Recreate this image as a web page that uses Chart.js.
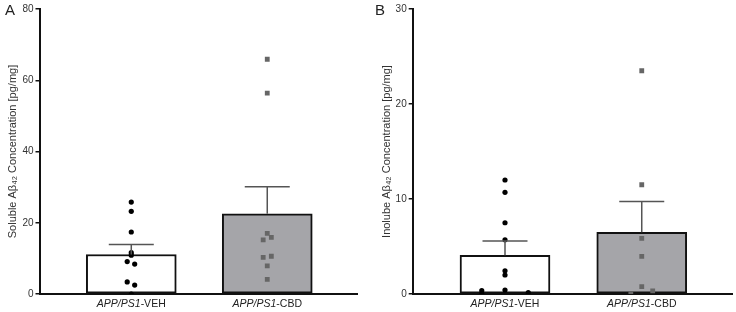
<!DOCTYPE html>
<html>
<head>
<meta charset="utf-8">
<script src="https://cdn.jsdelivr.net/npm/chart.js@4.4.1/dist/chart.umd.min.js"></script>
<style>
	body { margin: 0; background: #fff; width: 736px; height: 312px; overflow: hidden; }
	.panel { position: absolute; top: 0; width: 368px; height: 312px; }
	.letter { position: absolute; top: 1px; font-family: "Liberation Sans", Arial, sans-serif; font-size: 15px; color: #222; }
</style>
</head>
<body>
<div class="panel" style="left:0"><canvas id="chartA" width="368" height="312"></canvas></div>
<div class="panel" style="left:368px"><canvas id="chartB" width="368" height="312"></canvas></div>
<div class="letter" style="left:5px">A</div>
<div class="letter" style="left:375px">B</div>
<script>
// group labels (italic part + plain part)
const groupItalic = ['APP/PS1', 'APP/PS1'];
const groupPlain = ['-VEH', '-CBD'];

// panel A: soluble
const solubleMean = [11.1, 22.5];
const solubleSem = [2.8, 7.6];
const solubleVeh = [25.8, 23.2, 17.4, 11.6, 10.9, 9.1, 8.4, 3.4, 2.5, 0];
const solubleVehJitter = [0, 0, 0, 0, 0, -0.03, 0.025, -0.03, 0.025, 0];
const solubleCbd = [65.9, 56.4, 17.0, 15.9, 15.2, 10.6, 10.3, 7.9, 4.1];
const solubleCbdJitter = [0, 0, 0, 0.03, -0.03, 0.03, -0.03, 0, 0];
const solubleTicks = [0, 20, 40, 60, 80];

// panel B: insoluble
const insolubleMean = [4.07, 6.5];
const insolubleSem = [1.5, 3.25];
const insolubleVeh = [12.0, 10.7, 7.5, 5.7, 2.45, 2.0, 0.42, 0.35, 0.14, 0];
const insolubleVehJitter = [0, 0, 0, 0, 0, 0, 0, -0.17, 0.17, -0.17];
const insolubleCbd = [23.5, 11.5, 5.86, 3.97, 0.77, 0.32, 0];
const insolubleCbdJitter = [0, 0, 0, 0, 0, 0.08, -0.08];
const insolubleTicks = [0, 10, 20, 30];

const FONT = '"Liberation Sans", Arial, sans-serif';

const toPoints = (vals, jitter, group) => vals.map((v, i) => ({ x: group + jitter[i], y: v }));

// draws the upper error bar and the mixed-style group labels
const extrasPlugin = {
	id: 'extras',
	afterDatasetsDraw(chart) {
		const ctx = chart.ctx;
		const xs = chart.scales.x, ys = chart.scales.y;
		const sem = chart.options.plugins.extras.sem;
		const mean = chart.data.datasets[0].data;
		ctx.save();
		ctx.strokeStyle = '#555';
		ctx.lineWidth = 1.5;
		mean.forEach((m, i) => {
			const px = xs.getPixelForValue(m.x);
			const top = ys.getPixelForValue(m.y + sem[i]);
			const base = ys.getPixelForValue(m.y);
			ctx.beginPath();
			ctx.moveTo(px, base);
			ctx.lineTo(px, top);
			ctx.moveTo(px - 22.5, top);
			ctx.lineTo(px + 22.5, top);
			ctx.stroke();
		});
		ctx.restore();
	},
	afterDraw(chart) {
		const ctx = chart.ctx;
		const xs = chart.scales.x;
		ctx.save();
		ctx.fillStyle = '#222';
		ctx.textBaseline = 'middle';
		groupItalic.forEach((it, i) => {
			const cx = xs.getPixelForValue(i);
			ctx.font = 'italic 10.5px ' + FONT;
			const w1 = ctx.measureText(it).width;
			ctx.font = '10.5px ' + FONT;
			const w2 = ctx.measureText(groupPlain[i]).width;
			let x = cx - (w1 + w2) / 2;
			ctx.textAlign = 'left';
			ctx.font = 'italic 10.5px ' + FONT;
			ctx.fillText(it, x, 304);
			ctx.font = '10.5px ' + FONT;
			ctx.fillText(groupPlain[i], x + w1, 304);
		});
		ctx.restore();
	}
};

function makePanel(id, opts) {
	const ctx = document.getElementById(id).getContext('2d');
	return new Chart(ctx, {
		type: 'bar',
		data: {
			datasets: [
				{
					type: 'bar',
					data: opts.mean.map((v, i) => ({ x: i, y: v })),
					backgroundColor: ['#ffffff', '#a5a5a9'],
					borderColor: '#111',
					borderWidth: 2,
					borderSkipped: false,
					barThickness: 90,
					order: 2
				},
				{
					type: 'scatter',
					data: toPoints(opts.veh, opts.vehJitter, 0),
					pointStyle: 'circle',
					pointRadius: 2.6,
					backgroundColor: '#000',
					borderWidth: 0,
					order: 1
				},
				{
					type: 'scatter',
					data: toPoints(opts.cbd, opts.cbdJitter, 1),
					pointStyle: 'rect',
					pointRadius: 3.4,
					backgroundColor: '#666',
					borderWidth: 0,
					order: 1
				}
			]
		},
		options: {
			responsive: false,
			animation: false,
			layout: { padding: { top: 9, right: opts.padRight, left: 0, bottom: 0 } },
			plugins: {
				legend: { display: false },
				tooltip: { enabled: false },
				extras: { sem: opts.sem }
			},
			scales: {
				x: {
					type: 'linear',
					offset: false,
					min: -0.675,
					max: 1.66,
					ticks: { display: false },
					grid: { display: false },
					border: { color: '#111', width: 2 },
					afterFit: (s) => { s.height = 18; }
				},
				y: {
					min: 0,
					max: opts.ticks[opts.ticks.length - 1],
					afterBuildTicks: (s) => { s.ticks = opts.ticks.map(v => ({ value: v })); },
					ticks: { font: { family: FONT, size: 10 }, color: '#333', padding: 2 },
					grid: { drawOnChartArea: false, drawTicks: true, tickLength: 4, color: '#111', lineWidth: 1.5 },
					border: { color: '#111', width: 2 },
					title: {
						display: true,
						text: opts.title,
						font: { family: FONT, size: 11 },
						color: '#333',
						padding: { top: opts.titlePad, bottom: 0 }
					},
					afterFit: (s) => { s.width = opts.axisWidth; }
				}
			}
		},
		plugins: [extrasPlugin]
	});
}

makePanel('chartA', {
	mean: solubleMean, sem: solubleSem,
	veh: solubleVeh, vehJitter: solubleVehJitter,
	cbd: solubleCbd, cbdJitter: solubleCbdJitter,
	ticks: solubleTicks,
	title: 'Soluble Aβ₄₂ Concentration [pg/mg]',
	axisWidth: 39.5, padRight: 11, titlePad: 6
});

makePanel('chartB', {
	mean: insolubleMean, sem: insolubleSem,
	veh: insolubleVeh, vehJitter: insolubleVehJitter,
	cbd: insolubleCbd, cbdJitter: insolubleCbdJitter,
	ticks: insolubleTicks,
	title: 'Inolube Aβ₄₂ Concentration [pg/mg]',
	axisWidth: 44.7, padRight: 4, titlePad: 12.5
});
</script>
</body>
</html>
